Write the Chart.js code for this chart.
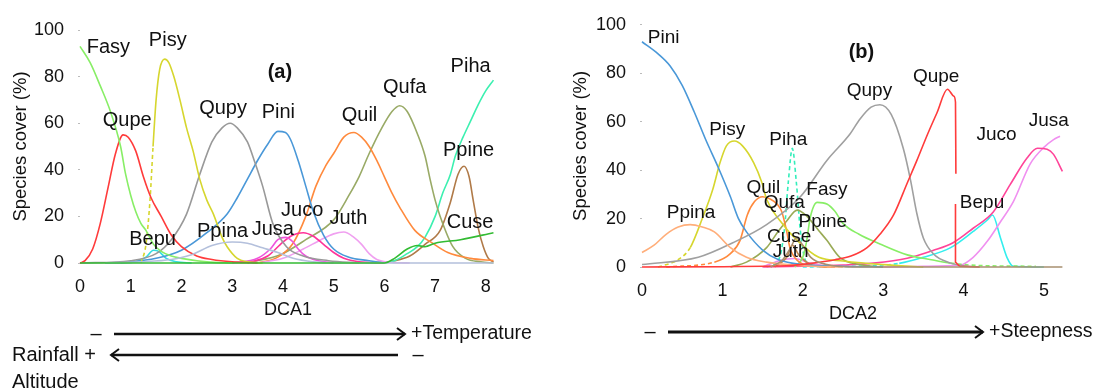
<!DOCTYPE html>
<html><head><meta charset="utf-8">
<script src="https://cdn.jsdelivr.net/npm/chart.js@4.4.0/dist/chart.umd.min.js"></script>
<style>
html,body{margin:0;padding:0;background:#fff;width:1102px;height:392px;overflow:hidden}
canvas{position:absolute;top:0}
#ca{left:0}#cb{left:560px}
</style></head><body>
<canvas id="ca" width="560" height="392"></canvas>
<canvas id="cb" width="542" height="392"></canvas>
<script>
// ---------- DATA: panel (a), DCA1 ----------
const yTicks  = [0,20,40,60,80,100];
const xTicksA = [0,1,2,3,4,5,6,7,8];
const xTicksB = [0,1,2,3,4,5];
const fasyA  = [[0,93],[0.2,86],[0.4,76],[0.6,65],[0.8,50],[0.9,38],[1.0,29],[1.1,22],[1.2,17],[1.3,14],[1.45,8],[1.6,5],[1.8,3],[2.0,2],[2.5,0.5],[3,0]];
const qupeA  = [[0,0],[0.1,1],[0.25,6],[0.4,17],[0.55,32],[0.7,47],[0.85,55],[0.95,54],[1.1,48],[1.25,37],[1.4,28],[1.6,20],[1.8,12],[2.0,7],[2.3,3],[2.6,1.5],[3,0.5],[3.5,0]];
const pisyA  = [[1.2,0],[1.3,8],[1.38,27],[1.44,50],[1.5,70],[1.57,83],[1.67,87.5],[1.75,86],[1.85,80],[1.97,70],[2.1,58],[2.23,48],[2.36,36],[2.5,27],[2.63,21],[2.8,11],[2.9,7],[3.1,2],[3.3,0.5],[3.6,0]];
const qupyA  = [[0,0],[1,1],[1.5,4],[1.8,10],[2.1,21],[2.36,38],[2.6,52],[2.8,58],[2.96,60],[3.1,58],[3.3,52],[3.45,43],[3.6,33],[3.8,17],[4.07,7],[4.4,3],[4.9,1],[5.5,0]];
const piniA  = [[0.5,0],[1,0.5],[1.5,2],[2,5.5],[2.5,13],[2.9,21],[3.1,28],[3.3,36],[3.5,44],[3.7,51],[3.9,56.5],[4.05,56],[4.15,53],[4.3,44],[4.45,33],[4.6,22],[4.8,12],[5,6],[5.3,2.5],[5.7,1],[6,0]];
const ppinaA = [[0.5,0],[1.2,0.5],[1.8,1.5],[2.2,3.5],[2.6,7.5],[3.0,9],[3.3,8.5],[3.6,6.5],[3.9,4.5],[4.2,2],[4.6,0.5],[5,0],[8.15,0]];
const bepuA  = [[0.8,0],[1.1,0.5],[1.3,2.5],[1.45,5.5],[1.55,5],[1.7,2],[1.9,0.5],[2.2,0]];
const jusaA  = [[3.0,0],[3.5,2],[3.75,6],[3.9,10],[4.05,11],[4.2,9],[4.3,6],[4.45,3],[4.7,1],[5,0]];
const jucoA  = [[3.3,0],[3.7,3],[4.0,9],[4.2,12],[4.4,13],[4.6,11.5],[4.8,8],[5.0,4.5],[5.2,2],[5.5,0.5],[6,0]];
const juthA  = [[3.5,0],[4,2],[4.4,6],[4.75,10],[5.0,12.5],[5.2,13.3],[5.4,11],[5.55,8],[5.7,4],[5.85,1.5],[6.1,0.3],[6.5,0]];
const quilA  = [[3.5,0],[3.9,2.5],[4.2,8.5],[4.45,20],[4.65,33],[4.85,42],[5.0,47],[5.2,54],[5.4,56],[5.55,54],[5.7,50],[5.85,44],[6.0,37],[6.15,30],[6.3,24],[6.6,14],[6.95,8.5],[7.25,4.5],[7.7,2],[8.15,1]];
const qufaA  = [[3,0],[3.5,1],[3.95,3.5],[4.45,10],[5.0,18.5],[5.3,29],[5.5,37],[5.7,47],[5.95,58],[6.15,65],[6.3,67.5],[6.45,65],[6.65,55.5],[6.8,46],[6.9,36],[7.0,27],[7.1,20],[7.35,7],[7.6,2],[7.9,0.5],[8.15,0]];
const pihaA  = [[5.8,0],[6.2,1],[6.45,4],[6.65,7],[6.8,11],[7.0,20],[7.15,30],[7.3,38],[7.4,46],[7.55,54],[7.7,61],[7.85,68],[8.0,74],[8.15,78.5]];
const ppineA = [[5.8,0],[6.2,1],[6.5,3],[6.8,8],[7.1,14],[7.3,26],[7.45,38],[7.57,41.5],[7.67,37],[7.75,27],[7.85,15],[7.95,7],[8.05,2],[8.15,0.5]];
const cuseA  = [[0,0],[6.0,0],[6.2,2],[6.45,6],[6.65,7.5],[6.8,7],[7.0,8.5],[7.5,10],[8.15,13]];

// ---------- DATA: panel (b), DCA2 ----------
const piniB  = [[0,93],[0.2,88],[0.35,83],[0.5,75],[0.65,64],[0.8,52],[0.95,41],[1.1,29],[1.2,20],[1.3,14.5],[1.5,7],[1.7,3],[2.0,1],[2.5,0.3],[3,0]];
const pisyB  = [[0.2,0],[0.35,1.5],[0.45,3],[0.6,8],[0.75,20],[0.88,32],[0.97,43],[1.05,50],[1.15,52],[1.25,50],[1.39,43],[1.49,35],[1.55,28],[1.72,19],[1.93,11],[2.2,4],[2.5,2.5],[3,1],[3.5,0]];
const ppinaB = [[0,6],[0.15,9],[0.3,13.5],[0.45,16.5],[0.6,17.5],[0.75,16.5],[0.9,14.5],[1.1,8],[1.3,4],[1.55,2],[2,0.5],[2.5,0]];
const qupyB  = [[0,1],[0.7,4],[1.13,10],[1.55,17.5],[1.97,29],[2.3,44],[2.59,55],[2.71,61],[2.85,66],[2.96,67],[3.1,63],[3.25,49],[3.34,36],[3.42,22],[3.5,12],[3.62,5.6],[3.84,1.6],[4,0.5],[4.2,0]];
const qupeB  = [[0,0],[1.8,0.5],[2.1,1.5],[2.4,3],[2.6,4.5],[2.8,8],[2.96,13.5],[3.13,21.5],[3.3,34.7],[3.42,44],[3.55,54.6],[3.67,63.7],[3.8,73.4],[3.88,70.5],[3.9,68],[3.905,38.5]];
const qupeB2 = [[3.9,26],[3.9,2],[3.95,0.3],[4.2,0]];
const pihaB  = [[1.55,0],[1.7,3],[1.77,15],[1.82,35],[1.87,49],[1.92,35],[1.97,15],[2.03,3],[2.15,0]];
const quilB  = [[0.3,0],[0.9,2],[1.1,5.5],[1.22,11],[1.31,21.5],[1.4,27],[1.5,29],[1.6,28],[1.68,26],[1.74,22.7],[1.8,14.7],[1.84,8],[1.93,2.8],[2.1,0.5],[2.4,0]];
const qufaB  = [[1.1,0],[1.3,2],[1.55,8],[1.7,15],[1.8,19],[1.93,23.5],[2.05,21],[2.2,15],[2.3,11],[2.46,4],[2.7,1],[3,0]];
const fasyB  = [[1.9,0],[2.0,4],[2.05,11],[2.09,20],[2.18,26.7],[2.3,26],[2.4,23],[2.5,18],[2.7,13.5],[2.96,9.5],[3.3,5],[3.6,3],[3.84,1.6],[4.2,0.6],[4.9,0.3]];
const ppineB = [[1.6,0],[1.75,3],[1.85,8],[1.92,12],[2.0,9],[2.1,4],[2.3,1],[2.6,0],[5.23,0]];
const cuseB  = [[1.65,0],[1.8,4],[1.87,9],[1.95,5],[2.1,1],[2.3,0]];
const juthB  = [[1.5,0],[1.7,2.5],[1.9,3.5],[2.1,1.5],[2.4,0]];
const jucoB  = [[1.5,0],[2.0,0.3],[2.5,0.8],[2.88,1.6],[3.3,3.6],[3.62,6.8],[3.87,10],[4.12,16],[4.37,22.7],[4.58,34],[4.79,45],[4.92,49],[5.04,48.6],[5.12,46.5],[5.23,39.5]];
const jusaB  = [[3.0,0],[3.5,0.3],[3.96,0.8],[4.12,4],[4.3,10.8],[4.46,18.7],[4.62,27],[4.83,42.6],[5.0,49.4],[5.12,52.6],[5.2,54]];
const bepuB  = [[2.0,0],[2.8,0.5],[3.2,1.5],[3.5,4],[3.84,8],[4.12,14.7],[4.3,19.5],[4.36,21.5],[4.46,12],[4.54,4],[4.62,0.3],[5,0]];

// ---------- label placement (data coordinates) ----------
const labelsA = [
  ['Fasy',0.56,92.3],['Pisy',1.73,95.7],['Qupe',0.93,61],['Qupy',2.82,66.5],['Pini',3.91,64.8],
  ['Quil',5.51,63.3],['Qufa',6.40,75.3],['Piha',7.70,84.5],['Ppine',7.66,48.3],['Bepu',1.43,9.9],
  ['Ppina',2.81,13.7],['Jusa',3.80,14.2],['Juco',4.38,22.7],['Juth',5.29,19.3],['Cuse',7.69,17.2]];
const labelsB = [
  ['Pini',0.27,94.8],['Pisy',1.06,56.8],['Piha',1.82,52.4],['Quil',1.51,32.9],['Fasy',2.30,31.7],
  ['Qufa',1.77,26.5],['Ppine',2.25,18.5],['Cuse',1.83,12.5],['Juth',1.85,6.4],['Ppina',0.61,22.5],
  ['Qupy',2.83,72.7],['Qupe',3.66,78.7],['Juco',4.41,54.4],['Jusa',5.06,60.2],['Bepu',4.23,26.5]];

const FONT = "'Liberation Sans', Arial, sans-serif";

function ds(pts, color, dash){
  const d = {data: pts.map(p=>({x:p[0], y:p[1]})), borderColor: color, borderWidth:1.6,
    pointRadius:0, fill:false, cubicInterpolationMode:'monotone', clip:false};
  if (dash) d.segment = {borderDash: c => dash(c.p0.parsed.x, c.p1.parsed.x) ? [4,3] : undefined};
  return d;
}

const datasetsA = [
  ds(cuseA,'#33bb33'), ds(ppinaA,'#b4c0dc'), ds(fasyA,'#88ee66'), ds(qupeA,'#ff3b3b'),
  ds(pisyA,'#d6d62e',(a,b)=>b<=1.45), ds(qupyA,'#999999'), ds(piniA,'#4a98d8'),
  ds(bepuA,'#33dde0'), ds(jusaA,'#ee55dd'), ds(jucoA,'#ff3399'), ds(juthA,'#f0a0f0'),
  ds(quilA,'#ff8a3d'), ds(qufaA,'#99aa66'), ds(pihaA,'#3cf0b0'), ds(ppineA,'#b07a48')];

const datasetsB = [
  ds(ppineB,'#a89070'), ds(qupeB,'#ff3b3b'), ds(qupeB2,'#ff3b3b'), ds(ppinaB,'#ffae7a'),
  ds(qupyB,'#a0a0a0'), ds(piniB,'#4a98d8'), ds(pisyB,'#d6d62e',(a,b)=>b<=0.6),
  ds(quilB,'#ff8a3d',(a,b)=>b<=1.0), ds(qufaB,'#99aa55'), ds(fasyB,'#88ee66',(a,b)=>a>=3.8),
  ds(cuseB,'#c08850'), ds(juthB,'#ee88ee'), ds(jucoB,'#ff4499'), ds(jusaB,'#f090f0'),
  ds(bepuB,'#33eeee',(a,b)=>b<=3.2), ds(pihaB,'#33eebb',()=>true)];
datasetsB[2].cubicInterpolationMode = 'default'; datasetsB[2].tension = 0;

function arrow(ctx, x1, x2, y, dir, w){
  ctx.save(); ctx.strokeStyle='#111'; ctx.lineWidth=w; ctx.lineCap='butt';
  ctx.beginPath(); ctx.moveTo(x1,y); ctx.lineTo(x2,y); ctx.stroke();
  const hx = dir>0 ? x2 : x1;
  ctx.lineWidth=2; ctx.beginPath();
  ctx.moveTo(hx-dir*8,y-6); ctx.lineTo(hx,y); ctx.lineTo(hx-dir*8,y+6); ctx.stroke();
  ctx.restore();
}
function txt(ctx, s, x, y, size, align, bold){
  ctx.save(); ctx.fillStyle='#111'; ctx.font=(bold?'bold ':'')+size+'px '+FONT;
  ctx.textAlign=align||'left'; ctx.textBaseline='middle'; ctx.fillText(s,x,y); ctx.restore();
}

function labelPlugin(labels, size, tag, tagPos, extra){
  return {id:'lbl', afterDraw(chart){
    const ctx=chart.ctx, sx=chart.scales.x, sy=chart.scales.y;
    labels.forEach(l => txt(ctx, l[0], sx.getPixelForValue(l[1]), sy.getPixelForValue(l[2]), size, 'center'));
    txt(ctx, tag, sx.getPixelForValue(tagPos[0]), sy.getPixelForValue(tagPos[1]), 20, 'center', true);
    extra(chart.ctx);
  }};
}

function opts(xMax, xTicks, padding, yWidth, xTitle){
  return {
    responsive:false, animation:false, devicePixelRatio:1,
    layout:{padding},
    plugins:{legend:{display:false}, tooltip:{enabled:false}},
    scales:{
      x:{type:'linear', min:0, max:xMax,
         grid:{display:false}, border:{display:false},
         ticks:{autoSkip:false, color:'#111', padding:5, font:{family:FONT,size:18}, maxRotation:0},
         afterBuildTicks: s => { s.ticks = xTicks.map(v=>({value:v})); },
         title:{display:true, text:xTitle, color:'#111', font:{family:FONT,size:18}, padding:{top:0,bottom:2}},
         afterFit: s => { s.height = 60; }},
      y:{type:'linear', min:0, max:100,
         grid:{display:true, drawOnChartArea:false, drawTicks:true, tickLength:2, color:'#bbbbbb'},
         border:{display:false},
         afterBuildTicks: s => { s.ticks = yTicks.map(v=>({value:v})); },
         ticks:{color:'#111', padding:14, font:{family:FONT,size:18}},
         title:{display:true, text:'Species cover (%)', color:'#111', font:{family:FONT,size:18.5}, padding:{top:10,bottom:0}},
         afterFit: s => { s.width = yWidth; }}
    }
  };
}

new Chart(document.getElementById('ca'), {
  type:'line', data:{datasets:datasetsA},
  options: opts(8.2, xTicksA, {left:0, top:30, right:64, bottom:69}, 80, 'DCA1'),
  plugins:[labelPlugin(labelsA, 20, '(a)', [3.94,81.8], ctx => {
    txt(ctx,'–',96,334,20,'center');
    arrow(ctx,114,405,334,1,2.5);
    txt(ctx,'+Temperature',411,334,19.5,'left');
    txt(ctx,'Rainfall +',12,355,20,'left');
    arrow(ctx,111,398,355,-1,2.5);
    txt(ctx,'–',418,355,20,'center');
    txt(ctx,'Altitude',12,382,20,'left');
  })]
});

new Chart(document.getElementById('cb'), {
  type:'line', data:{datasets:datasetsB},
  options: opts(5.25, xTicksB, {left:0, top:16, right:38, bottom:65}, 82, 'DCA2'),
  plugins:[labelPlugin(labelsB, 19, '(b)', [2.73,88.4], ctx => {
    txt(ctx,'–',90,332,20,'center');
    arrow(ctx,108,423,332,1,3);
    txt(ctx,'+Steepness',429,332,19.5,'left');
  })]
});
</script>
</body></html>
